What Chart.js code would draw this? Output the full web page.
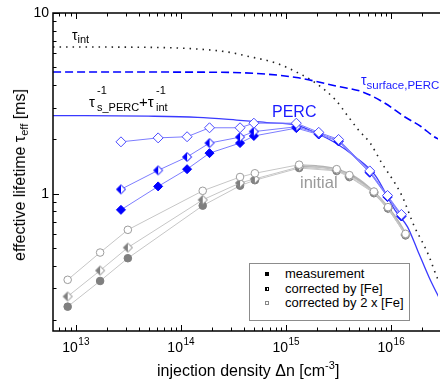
<!DOCTYPE html>
<html>
<head>
<meta charset="utf-8">
<script src="https://cdn.jsdelivr.net/npm/chart.js@4/dist/chart.umd.min.js"></script>
<style>
  html, body { margin: 0; padding: 0; background: #fff; }
  #wrap { position: relative; width: 444px; height: 384px; overflow: hidden; font-family: "Liberation Sans", Arial, sans-serif; }
  #chart { position: absolute; left: 0; top: 0; }
  .lbl { position: absolute; white-space: nowrap; line-height: 1; }
  .lbl sub, .lbl sup { line-height: 0; }
  #legend { position: absolute; left: 249px; top: 263px; width: 161px; height: 58px; border: 1px solid #8c8c8c; box-sizing: border-box; background: #fff; font-size: 13px; padding-top: 3px; white-space: nowrap; }
  #legend .row { position: relative; height: 14.7px; line-height: 14.7px; padding-left: 35px; }
  #legend .sq { position: absolute; left: 15px; top: 5px; width: 4px; height: 4px; box-sizing: border-box; }
</style>
</head>
<body>
<div id="wrap">
  <canvas id="chart" width="444" height="384"></canvas>

  <div class="lbl" style="left:72px; top:28px; font-size:14px;">τ<sub style="font-size:11px; vertical-align:-3px;">int</sub></div>
  <div class="lbl" style="left:361px; top:73px; font-size:14px; color:#1a1aff;">τ<sub style="font-size:11.5px; vertical-align:-4px;">surface,PERC</sub></div>

  <div class="lbl" style="left:89px; top:94px; font-size:15px;">τ</div>
  <div class="lbl" style="left:97px; top:85px; font-size:11px;">-1</div>
  <div class="lbl" style="left:97px; top:102px; font-size:11px;">s_PERC</div>
  <div class="lbl" style="left:139px; top:94px; font-size:15px;">+τ</div>
  <div class="lbl" style="left:156px; top:85px; font-size:11px;">-1</div>
  <div class="lbl" style="left:156px; top:102px; font-size:11px;">int</div>

  <div class="lbl" style="left:272px; top:104px; font-size:16px; color:#1a1aff;">PERC</div>
  <div class="lbl" style="left:300px; top:174px; font-size:16.5px; color:#9a9a9a;">initial</div>

  <div class="lbl" style="left:157px; top:363px; font-size:16px;">injection density Δn [cm<sup style="font-size:11px; vertical-align:7px;">-3</sup>]</div>
  <div class="lbl" style="left:20px; top:175px; font-size:16px; transform: translate(-50%, -50%) rotate(-90deg);">effective lifetime τ<sub style="font-size:11px; vertical-align:-3px;">eff</sub> [ms]</div>

  <div id="legend">
    <div class="row"><span class="sq" style="background:#000;"></span>measurement</div>
    <div class="row"><span class="sq" style="border:1px solid #000; background:linear-gradient(90deg,#000 50%,#fff 50%);"></span>corrected by [Fe]</div>
    <div class="row"><span class="sq" style="border:1px solid #888; background:#fff;"></span>corrected by 2 x [Fe]</div>
  </div>
</div>

<script>
// axis ranges
const X_MIN = 6.09e12;
const X_MAX = 2.81e16;
const Y_MIN = 0.1746;
const Y_MAX = 10;

// PERC samples (blue)
const percX = [2.7e13, 6.1e13, 1.15e14, 1.88e14, 3.67e14, 4.97e14, 1.26e15, 2.06e15, 3.18e15, 6.3e15, 9.3e15, 1.26e16];
const percMeas = [0.816, 1.10, 1.37, 1.68, 1.91, 2.09, 2.31, 2.13, 1.95, 1.31, 0.96, 0.75];
const percFe = [1.06, 1.35, 1.60, 1.91, 2.06, 2.21, 2.35, 2.16, 1.97, 1.32, 0.97, 0.76];
const percFe2 = [1.94, 2.04, 2.07, 2.32, 2.32, 2.46, 2.46, 2.19, 2.00, 1.34, 0.98, 0.77];

// initial samples (gray)
const initX = [8.4e12, 1.71e13, 3.14e13, 1.62e14, 3.67e14, 5.08e14, 1.34e15, 3.05e15, 4.03e15, 6.9e15, 9.4e15, 1.38e16];
const initMeas = [0.238, 0.330, 0.441, 0.861, 1.11, 1.19, 1.39, 1.34, 1.24, 1.01, 0.83, 0.59];
const initFe = [0.271, 0.377, 0.505, 0.927, 1.15, 1.21, 1.41, 1.35, 1.25, 1.02, 0.835, 0.595];
const initFe2 = [0.335, 0.474, 0.633, 1.04, 1.24, 1.30, 1.45, 1.37, 1.27, 1.03, 0.845, 0.601];

// tau_int (dotted)
const tauIntX = [6.1e12, 4.9e13, 1.45e14, 2.77e14, 4.27e14, 8.2e14, 1.26e15, 1.94e15, 2.98e15, 3.94e15, 4.9e15, 6.35e15, 8.2e15, 1.09e16, 1.29e16, 1.68e16, 1.99e16, 2.32e16, 2.58e16, 2.94e16];
const tauIntY = [6.49, 6.46, 6.32, 6.09, 5.78, 5.27, 4.72, 4.09, 3.30, 2.67, 2.26, 1.91, 1.48, 1.15, 0.962, 0.657, 0.543, 0.449, 0.380, 0.314];

// tau_surface,PERC (dashed)
const tauSurfX = [6.1e12, 1.45e14, 5.3e14, 1.26e15, 3.18e15, 5.33e15, 8.8e15, 1.35e16, 1.95e16, 2.58e16, 2.94e16];
const tauSurfY = [4.72, 4.71, 4.63, 4.40, 3.92, 3.67, 3.17, 2.67, 2.35, 2.07, 1.99];

// PERC fit (solid blue)
const fitPercX = [6.1e12, 4.9e13, 1.45e14, 3.4e14, 6.6e14, 1.26e15, 1.94e15, 2.98e15, 4.6e15, 7.07e15, 1.09e16, 1.44e16, 1.79e16, 2.32e16, 2.94e16];
const fitPercY = [2.71, 2.69, 2.65, 2.56, 2.48, 2.40, 2.17, 1.91, 1.60, 1.27, 0.816, 0.657, 0.49, 0.344, 0.26];

// initial fit (thick gray)
const fitInitX = [1.26e15, 1.94e15, 2.98e15, 4.6e15, 6.76e15, 9.4e15, 1.21e16, 1.44e16];
const fitInitY = [1.43, 1.42, 1.37, 1.23, 1.03, 0.837, 0.683, 0.571];

const pts = (xs, ys) => xs.map((x, i) => ({ x, y: ys[i] }));

function halfDiamond(fill, edge) {
  const r = 4.5;
  const s = 12;
  const m = s / 2;
  const c = document.createElement('canvas');
  c.width = s; c.height = s;
  const g = c.getContext('2d');
  const outline = () => {
    g.beginPath();
    g.moveTo(m, m - r); g.lineTo(m + r, m); g.lineTo(m, m + r); g.lineTo(m - r, m);
    g.closePath();
  };
  outline(); g.fillStyle = '#fff'; g.fill();
  g.beginPath();
  g.moveTo(m, m - r); g.lineTo(m, m + r); g.lineTo(m - r, m);
  g.closePath(); g.fillStyle = fill; g.fill();
  outline(); g.strokeStyle = edge; g.lineWidth = 1; g.stroke();
  return c;
}

const BLUE = '#0000ff';
const BLUE_LINE = '#7d7dff';
const GRAY = '#7f7f7f';
const GRAY_LINE = '#c6c6c6';

function sample(xs, ys, style) {
  return Object.assign({
    data: pts(xs, ys),
    showLine: true,
    borderWidth: 1,
    pointBorderWidth: 1,
    pointRadius: 4.5,
  }, style);
}

// inward ticks, frame and tick labels
const frameTicks = {
  id: 'frameTicks',
  afterDraw(chart) {
    const { ctx, chartArea: a, scales: { x, y } } = chart;
    ctx.save();
    ctx.strokeStyle = '#000';
    ctx.lineWidth = 1.5;
    ctx.beginPath();
    ctx.moveTo(a.right + 2, a.top);
    ctx.lineTo(a.left, a.top);
    ctx.lineTo(a.left, a.bottom);
    ctx.lineTo(a.right + 2, a.bottom);
    ctx.stroke();

    ctx.lineWidth = 1;
    ctx.beginPath();
    for (let e = 12; e <= 16; e++) {
      for (let m = 1; m <= 9; m++) {
        const v = m * Math.pow(10, e);
        if (v < X_MIN || v > X_MAX) continue;
        const px = Math.round(x.getPixelForValue(v)) + 0.5;
        const len = m === 1 ? 6 : 3.5;
        ctx.moveTo(px, a.bottom); ctx.lineTo(px, a.bottom - len);
        ctx.moveTo(px, a.top); ctx.lineTo(px, a.top + len);
      }
    }
    for (let e = -1; e <= 1; e++) {
      for (let m = 1; m <= 9; m++) {
        const v = m * Math.pow(10, e);
        if (v < Y_MIN || v > Y_MAX * 1.001) continue;
        const py = Math.round(y.getPixelForValue(v)) + 0.5;
        const len = m === 1 ? 6 : 3.5;
        ctx.moveTo(a.left, py); ctx.lineTo(a.left + len, py);
      }
    }
    ctx.stroke();

    ctx.fillStyle = '#000';
    ctx.textBaseline = 'alphabetic';
    for (let e = 13; e <= 16; e++) {
      const px = x.getPixelForValue(Math.pow(10, e));
      ctx.font = '14px "Liberation Sans", Arial';
      const w1 = ctx.measureText('10').width;
      ctx.font = '10px "Liberation Sans", Arial';
      const w2 = ctx.measureText(String(e)).width;
      const x0 = px - (w1 + w2) / 2;
      ctx.font = '14px "Liberation Sans", Arial';
      ctx.textAlign = 'left';
      ctx.fillText('10', x0, 352);
      ctx.font = '10px "Liberation Sans", Arial';
      ctx.fillText(String(e), x0 + w1 + 0.5, 345);
    }
    ctx.font = '14px "Liberation Sans", Arial';
    ctx.textAlign = 'right';
    ctx.textBaseline = 'middle';
    [1, 10].forEach((v) => {
      ctx.fillText(String(v), a.left - 4, y.getPixelForValue(v) + 0.5);
    });
    ctx.restore();
  },
};

const datasets = [
  sample(percX, percFe2, { borderColor: BLUE_LINE, pointStyle: 'rectRot', pointBackgroundColor: '#fff', pointBorderColor: '#4a4aff', pointRadius: 5 }),
  sample(percX, percFe, { borderColor: BLUE_LINE, pointStyle: halfDiamond(BLUE, BLUE) }),
  sample(percX, percMeas, { borderColor: BLUE_LINE, pointStyle: 'rectRot', pointBackgroundColor: BLUE, pointBorderColor: BLUE }),
  sample(initX, initFe2, { borderColor: GRAY_LINE, pointStyle: 'circle', pointBackgroundColor: '#fff', pointBorderColor: '#9c9c9c', pointRadius: 3.8 }),
  sample(initX, initFe, { borderColor: GRAY_LINE, pointStyle: halfDiamond(GRAY, GRAY) }),
  sample(initX, initMeas, { borderColor: GRAY_LINE, pointStyle: 'circle', pointBackgroundColor: GRAY, pointBorderColor: GRAY, pointRadius: 3.8 }),
  { data: pts(fitPercX, fitPercY), borderColor: '#3a3aff', borderWidth: 1.3, pointRadius: 0, cubicInterpolationMode: 'monotone' },
  { data: pts(fitInitX, fitInitY), borderColor: '#b4b4b4', borderWidth: 2.6, pointRadius: 0, cubicInterpolationMode: 'monotone' },
  { data: pts(tauSurfX, tauSurfY), borderColor: BLUE, borderWidth: 1.6, borderDash: [8, 4], pointRadius: 0, cubicInterpolationMode: 'monotone' },
  { data: pts(tauIntX, tauIntY), borderColor: '#222', borderWidth: 1.6, borderDash: [1.5, 5], pointRadius: 0, cubicInterpolationMode: 'monotone' },
];

new Chart(document.getElementById('chart'), {
  type: 'line',
  data: { datasets },
  options: {
    responsive: false,
    animation: false,
    events: [],
    layout: { padding: { top: 13, right: 0, left: 0, bottom: 0 } },
    plugins: { legend: { display: false }, tooltip: { enabled: false } },
    scales: {
      x: {
        type: 'logarithmic', min: X_MIN, max: X_MAX,
        grid: { display: false }, border: { display: false }, ticks: { display: false },
        afterFit: (s) => { s.height = 53; },
      },
      y: {
        type: 'logarithmic', min: Y_MIN, max: Y_MAX,
        grid: { display: false }, border: { display: false }, ticks: { display: false },
        afterFit: (s) => { s.width = 53; },
      },
    },
  },
  plugins: [frameTicks],
});
</script>
</body>
</html>
